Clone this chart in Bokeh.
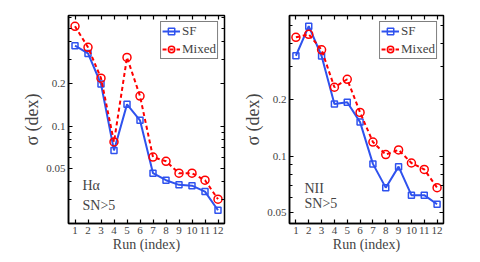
from bokeh.plotting import figure
from bokeh.models import (Range1d, FixedTicker, LinearAxis, LogAxis, Label, Legend,
                          CustomJSTickFormatter)
from bokeh.layouts import row
from bokeh.embed import file_html
from bokeh.resources import INLINE

runs = list(range(1, 13))
run_labels = [str(r) for r in runs]

ha_sf = [0.376, 0.331, 0.200, 0.067, 0.143, 0.110, 0.046, 0.041, 0.038, 0.0375, 0.034, 0.025]
ha_mixed = [0.517, 0.366, 0.220, 0.077, 0.310, 0.164, 0.060, 0.056, 0.046, 0.046, 0.041, 0.030]
nii_sf = [0.343, 0.493, 0.342, 0.190, 0.194, 0.152, 0.091, 0.068, 0.088, 0.062, 0.062, 0.0555]
nii_mixed = [0.430, 0.446, 0.369, 0.233, 0.257, 0.171, 0.119, 0.102, 0.108, 0.092, 0.085, 0.068]

y_major = [0.05, 0.1, 0.2]
y_minor = [0.02, 0.03, 0.04, 0.06, 0.07, 0.08, 0.09, 0.3, 0.4, 0.5, 0.6]

FONT = "Liberation Serif"
BLUE = "#2f52ee"
RED = "#ff0000"


def make_panel(sf, mixed, name, yr, fw, border_left, border_right, tag_pos):
    p = figure(output_backend="svg", toolbar_location=None,
               frame_width=fw, frame_height=208,
               min_border_left=border_left, min_border_right=border_right,
               min_border_top=15, min_border_bottom=30,
               y_axis_type="log", x_range=Range1d(0.5, 12.5), y_range=Range1d(*yr))
    p.grid.visible = False
    p.outline_line_color = "black"
    p.outline_line_width = 1.5
    p.background_fill_color = "white"
    p.border_fill_color = "white"

    xt = FixedTicker(ticks=runs)
    yt = FixedTicker(ticks=y_major, minor_ticks=y_minor)

    xa = p.xaxis[0]
    xa.ticker = xt
    xa.major_label_overrides = {r: s for r, s in zip(runs, run_labels)}
    xa.axis_label = "Run (index)"
    ya = p.yaxis[0]
    ya.ticker = yt
    ya.formatter = CustomJSTickFormatter(code="return String(tick);")
    ya.axis_label = "σ (dex)"
    for ax in (xa, ya):
        ax.axis_line_width = 1.5
        ax.major_tick_in = 4
        ax.major_tick_out = 0
        ax.minor_tick_in = 3
        ax.minor_tick_out = 0
        ax.major_tick_line_width = 1.2
        ax.minor_tick_line_width = 1.2
        ax.major_label_text_font = FONT
        ax.major_label_text_font_size = "11px"
        ax.major_label_standoff = 3
        ax.axis_label_text_font = FONT
        ax.axis_label_text_font_style = "normal"
        ax.axis_label_text_font_size = "14px"
        ax.axis_label_standoff = 0
    ya.axis_label_text_font_size = "18px"
    ya.axis_label_standoff = 1

    top = LinearAxis(ticker=xt, major_label_text_color=None, major_label_text_font_size="1px",
                     major_label_standoff=0,
                     major_tick_in=4, major_tick_out=0, major_tick_line_width=1.2,
                     axis_line_color=None, minor_tick_line_color=None)
    right = LogAxis(ticker=yt, major_label_text_color=None, major_label_text_font_size="1px",
                    major_label_standoff=0,
                    major_tick_in=4, major_tick_out=0, minor_tick_in=3, minor_tick_out=0,
                    major_tick_line_width=1.2, minor_tick_line_width=1.2,
                    axis_line_color=None)
    p.add_layout(top, "above")
    p.add_layout(right, "right")

    l1 = p.line(runs, sf, line_color=BLUE, line_width=2)
    m1 = p.scatter(runs, sf, marker="square", size=6, line_color=BLUE, line_width=1.5,
                   fill_color=None)
    l2 = p.line(runs, mixed, line_color=RED, line_width=2, line_dash="4 3")
    m2 = p.scatter(runs, mixed, marker="circle", size=8, line_color=RED, line_width=1.5,
                   fill_color=None)

    leg = Legend(items=[("SF", [l1, m1]), ("Mixed", [l2, m2])], location="top_right",
                 margin=6, padding=1, spacing=2, glyph_width=18, glyph_height=16,
                 label_height=16, label_width=10, label_standoff=2, label_text_font=FONT,
                 label_text_font_size="13px", border_line_color="black",
                 border_line_width=1, background_fill_color="white",
                 background_fill_alpha=1)
    p.add_layout(leg)

    tx, ty1, ty2 = tag_pos
    p.add_layout(Label(x=tx, y=ty1, x_units="screen", y_units="screen", text=name,
                       text_font=FONT, text_font_size="14px", text_baseline="middle"))
    p.add_layout(Label(x=tx, y=ty2, x_units="screen", y_units="screen", text="SN>5",
                       text_font=FONT, text_font_size="14px", text_baseline="middle"))
    return p


p1 = make_panel(ha_sf, ha_mixed, "Hα", (0.0201, 0.618), 156, 68, 16, (14, 38, 18))
p2 = make_panel(nii_sf, nii_mixed, "NII", (0.0438, 0.562), 154, 40, 46, (15, 35, 20))

layout = row(p1, p2, spacing=0)
open("out.html", "w").write(file_html(layout, INLINE))
